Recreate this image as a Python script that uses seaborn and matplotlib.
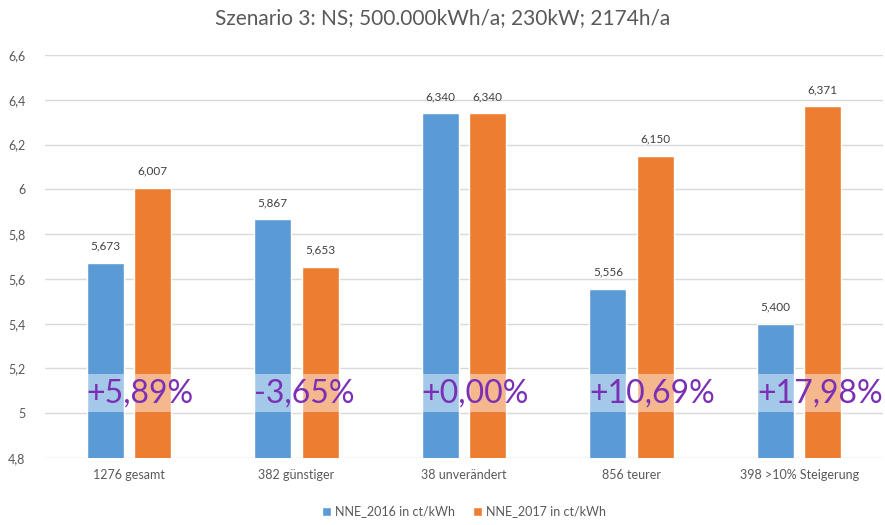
import matplotlib
matplotlib.use("Agg")
import matplotlib.pyplot as plt
import seaborn as sns
import pandas as pd
from matplotlib.ticker import FixedLocator, FixedFormatter

categories = ["1276 gesamt", "382 günstiger", "38 unverändert", "856 teurer", "398 >10% Steigerung"]
nne_2016 = [5.673, 5.867, 6.340, 5.556, 5.400]
nne_2017 = [6.007, 5.653, 6.340, 6.150, 6.371]
labels_2016 = ["5,673", "5,867", "6,340", "5,556", "5,400"]
labels_2017 = ["6,007", "5,653", "6,340", "6,150", "6,371"]
pct_labels = ["+5,89%", "-3,65%", "+0,00%", "+10,69%", "+17,98%"]
series = ["NNE_2016 in ct/kWh", "NNE_2017 in ct/kWh"]
yticks = [4.8, 5.0, 5.2, 5.4, 5.6, 5.8, 6.0, 6.2, 6.4, 6.6]
ytick_labels = ["4,8", "5", "5,2", "5,4", "5,6", "5,8", "6", "6,2", "6,4", "6,6"]

sns.set_style("white")
plt.rcParams["font.family"] = ["Lato", "DejaVu Sans"]

df = pd.DataFrame({
    "cat": categories * 2,
    "val": nne_2016 + nne_2017,
    "series": [series[0]] * 5 + [series[1]] * 5,
})

fig = plt.figure(figsize=(8.85, 5.25), dpi=100)
ax = fig.add_axes([45 / 885, 67 / 525, 838 / 885, 403 / 525])
sns.barplot(data=df, x="cat", y="val", hue="series", palette=["#5B9BD5", "#ED7D31"],
            saturation=1, width=0.565, gap=0.22, ax=ax, zorder=2, legend=True)

ax.set_ylim(4.8, 6.6)
ax.set_xlim(-0.5, 4.5)
ax.yaxis.set_major_locator(FixedLocator(yticks))
ax.yaxis.set_major_formatter(FixedFormatter(ytick_labels))
ax.grid(axis="y", color="#D9D9D9", linewidth=1, zorder=0)
ax.set_axisbelow(True)
for s in ax.spines.values():
    s.set_visible(False)
ax.tick_params(axis="both", length=0, labelsize=9, colors="#595959", pad=8)
ax.tick_params(axis="y", pad=14)
ax.set_xlabel("")
ax.set_ylabel("")

bars = [p for p in ax.patches if p.get_width() > 0][:10]
blue = sorted(bars[:5], key=lambda p: p.get_x())
orange = sorted(bars[5:10], key=lambda p: p.get_x())
for p, lab in zip(blue, labels_2016):
    ax.annotate(lab, (p.get_x() + p.get_width() / 2, p.get_height()), xytext=(0, 8),
                textcoords="offset points", ha="center", va="bottom", fontsize=8.5, color="#404040")
for p, lab in zip(orange, labels_2017):
    ax.annotate(lab, (p.get_x() + p.get_width() / 2, p.get_height()), xytext=(0, 8),
                textcoords="offset points", ha="center", va="bottom", fontsize=8.5, color="#404040")
for p, lab in zip(blue, pct_labels):
    ax.text(p.get_x(), 5.09, lab, ha="left", va="center", fontsize=23, color="#7B2FB5",
            zorder=5,
            bbox=dict(boxstyle="square,pad=0.12", facecolor="white", alpha=0.45, edgecolor="none"))

leg = ax.legend(loc="upper center", bbox_to_anchor=(0.5, -0.09), ncol=2, frameon=False,
                fontsize=9, handlelength=0.7, handleheight=0.7, handletextpad=0.3, columnspacing=1.5)
for t in leg.get_texts():
    t.set_color("#595959")

fig.text(0.5, 0.965, "Szenario 3: NS; 500.000kWh/a; 230kW; 2174h/a", ha="center", va="center",
         fontsize=15, color="#595959")

fig.savefig("out.png", dpi=100)
